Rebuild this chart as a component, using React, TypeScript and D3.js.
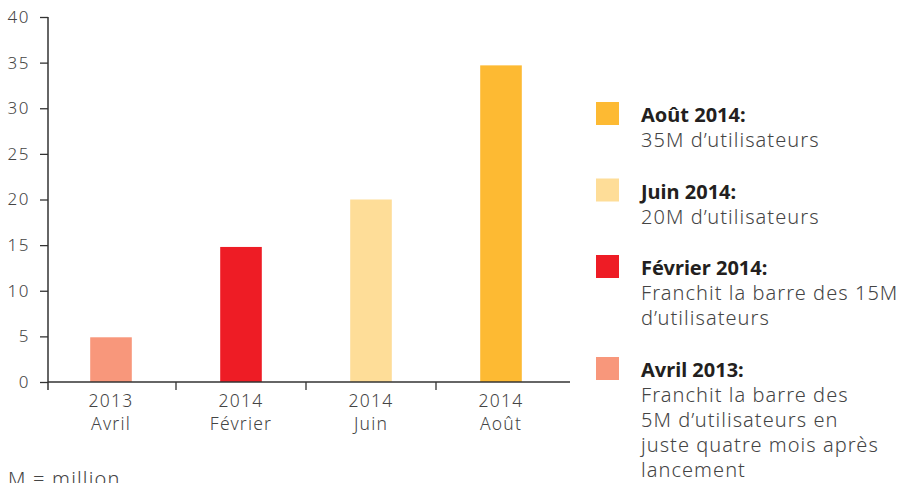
import React, { useEffect, useRef } from "react";
import * as d3 from "d3";

const width = 900;
const height = 483;
const margin = { top: 17, left: 48, bottom: 101, right: 334 };

const years = ["2013", "2014", "2014", "2014"];
const months = ["Avril", "Février", "Juin", "Août"];
const values = [4.9, 14.8, 20, 34.7];
const colors = ["#F8977B", "#EE1C25", "#FEDD98", "#FDBA33"];
const yTicks = [0, 5, 10, 15, 20, 25, 30, 35, 40];

// legend, top to bottom (reverse of bars)
const legendTitles = ["Août 2014:", "Juin 2014:", "Février 2014:", "Avril 2013:"];
const legendLines = [
  ["35M d’utilisateurs"],
  ["20M d’utilisateurs"],
  ["Franchit la barre des 15M", "d’utilisateurs"],
  ["Franchit la barre des", "5M d’utilisateurs en", "juste quatre mois après", "lancement"],
];
const legendColors = [colors[3], colors[2], colors[1], colors[0]];

const font = "'Noto Sans', sans-serif";
const textColor = "#444";

export default function App() {
  const axisRef = useRef<SVGGElement>(null);

  const xScale = d3
    .scaleBand<number>()
    .domain(d3.range(values.length))
    .range([46, 566])
    .padding(0);

  const yScale = d3
    .scaleLinear()
    .domain([0, 40])
    .range([height - margin.bottom, margin.top]);

  const barW = xScale.bandwidth() * 0.32;

  useEffect(() => {
    const g = d3.select(axisRef.current);
    g.selectAll("*").remove();

    const yAxis = d3
      .axisLeft(yScale)
      .tickValues(yTicks)
      .tickSize(8)
      .tickPadding(10);
    const ya = g.append("g").attr("transform", `translate(${margin.left},0)`).call(yAxis);
    ya.select(".domain").remove();
    ya.selectAll(".tick line").attr("stroke", "#333").attr("stroke-width", 1.3);
    ya.selectAll(".tick text")
      .attr("fill", textColor)
      .style("font-family", font)
      .style("font-size", "17px")
      .style("letter-spacing", "1.5px")
      .style("font-weight", 300);

    // y axis line, going a bit below the baseline
    g.append("line")
      .attr("x1", margin.left)
      .attr("x2", margin.left)
      .attr("y1", yScale(40))
      .attr("y2", yScale(0) + 8)
      .attr("stroke", "#333")
      .attr("stroke-width", 1.5);

    // x axis line
    g.append("line")
      .attr("x1", margin.left)
      .attr("x2", 570)
      .attr("y1", yScale(0))
      .attr("y2", yScale(0))
      .attr("stroke", "#333")
      .attr("stroke-width", 1.5);

    // band boundaries ticks
    const bounds = d3.range(1, values.length).map((i) => xScale(i) as number);
    g.selectAll(".xt")
      .data(bounds)
      .join("line")
      .attr("class", "xt")
      .attr("x1", (d) => d)
      .attr("x2", (d) => d)
      .attr("y1", yScale(0))
      .attr("y2", yScale(0) + 8)
      .attr("stroke", "#333")
      .attr("stroke-width", 1.3);
  }, []);

  return (
    <svg
      width={width}
      height={height}
      style={{ position: "absolute", left: 0, top: 0 }}
    >
      <rect width={width} height={height} fill="#fff" />
      {values.map((v, i) => {
        const cx = (xScale(i) as number) + xScale.bandwidth() / 2;
        return (
          <rect
            key={i}
            x={cx - barW / 2}
            y={yScale(v)}
            width={barW}
            height={yScale(0) - yScale(v)}
            fill={colors[i]}
          />
        );
      })}
      <g ref={axisRef} />
      {values.map((v, i) => {
        const cx = (xScale(i) as number) + xScale.bandwidth() / 2;
        return (
          <text
            key={i}
            x={cx}
            textAnchor="middle"
            fill={textColor}
            style={{ fontFamily: font, fontSize: 17.5, fontWeight: 300, letterSpacing: 1.2 }}
          >
            <tspan x={cx} y={407}>{years[i]}</tspan>
            <tspan x={cx} y={430}>{months[i]}</tspan>
          </text>
        );
      })}
      <text
        x={8}
        y={486}
        fill={textColor}
        style={{ fontFamily: font, fontSize: 20, fontWeight: 300, letterSpacing: 1.2 }}
      >
        M = million
      </text>
      {legendTitles.map((t, i) => {
        const before = legendLines.slice(0, i).reduce((s, l) => s + l.length, 0);
        const top = 122 + i * 51 + before * 25.5;
        return (
          <g key={t}>
            <rect x={596} y={top - 20} width={23} height={23} fill={legendColors[i]} />
            <text
              x={641}
              y={top}
              fill="#231f20"
              style={{ fontFamily: font, fontSize: 20, fontWeight: 700 }}
            >
              {t}
            </text>
            {legendLines[i].map((line, j) => (
              <text
                key={j}
                x={641}
                y={top + 25 * (j + 1)}
                fill={textColor}
                style={{ fontFamily: font, fontSize: 20, fontWeight: 300, letterSpacing: 1.05 }}
              >
                {line}
              </text>
            ))}
          </g>
        );
      })}
    </svg>
  );
}
